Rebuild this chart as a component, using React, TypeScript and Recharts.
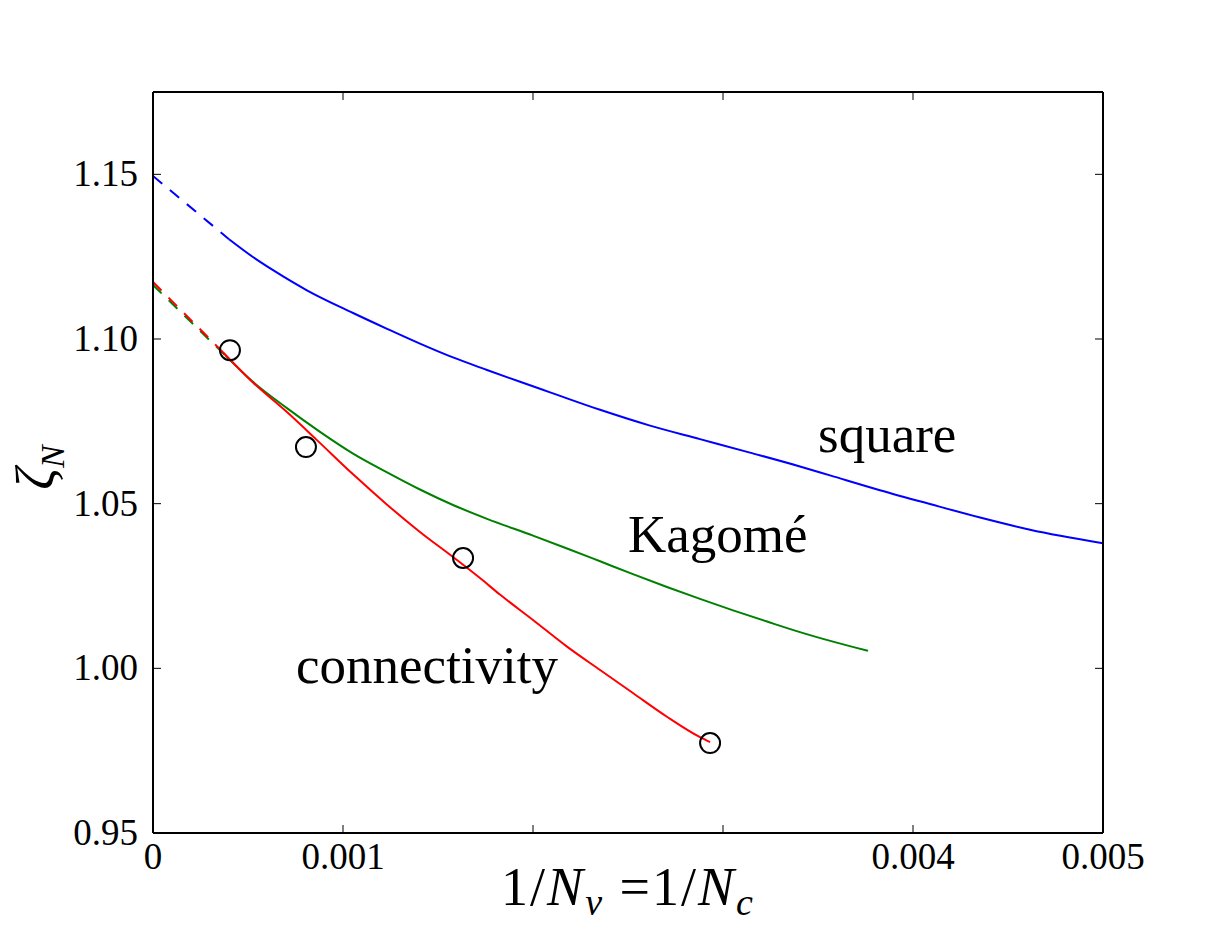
import React from 'react';
import { ComposedChart, Line, XAxis, YAxis, ReferenceDot } from 'recharts';

// ---- data ----
const xTicks = [0, 0.001, 0.002, 0.003, 0.004, 0.005];
const xTickLabels = ['0', '0.001', '', '', '0.004', '0.005'];
const yTicks = [0.95, 1.0, 1.05, 1.1, 1.15];
const yTickLabels = ['0.95', '1.00', '1.05', '1.10', '1.15'];

// square lattice
const squareX = [0.0004, 0.000526, 0.000632, 0.00081, 0.001053, 0.001232, 0.001405, 0.001579, 0.001758, 0.001932, 0.00209, 0.002353, 0.002616, 0.002879, 0.003142, 0.003405, 0.003563, 0.003826, 0.004089, 0.004353, 0.004616, 0.005];
const squareY = [1.1303, 1.1249, 1.1209, 1.1148, 1.1079, 1.1031, 1.0986, 1.0944, 1.0906, 1.087, 1.0838, 1.0785, 1.0737, 1.0696, 1.0655, 1.0613, 1.0586, 1.0541, 1.0499, 1.0458, 1.0421, 1.038];
const squareFitX = [0, 0.0004];
const squareFitY = [1.1495, 1.1303];

// Kagomé lattice
const kagomeX = [0.000379, 0.000526, 0.000705, 0.000879, 0.001053, 0.001232, 0.001405, 0.001579, 0.001758, 0.002, 0.002179, 0.002353, 0.002526, 0.002705, 0.002879, 0.003053, 0.003232, 0.003405, 0.003579, 0.003763];
const kagomeY = [1.0951, 1.087, 1.079, 1.0718, 1.0652, 1.0595, 1.0543, 1.0496, 1.0454, 1.0403, 1.0364, 1.0325, 1.0286, 1.0247, 1.0211, 1.0176, 1.0142, 1.011, 1.0081, 1.0053];
const kagomeFitX = [0, 0.000379];
const kagomeFitY = [1.1164, 1.0951];

// connectivity
const connX = [0.000368, 0.000526, 0.000705, 0.000863, 0.001053, 0.001232, 0.001405, 0.001579, 0.001721, 0.001826, 0.002, 0.002179, 0.002353, 0.002526, 0.002705, 0.002879, 0.002932];
const connY = [1.096, 1.0868, 1.0778, 1.0693, 1.0589, 1.0497, 1.0414, 1.0338, 1.0274, 1.0224, 1.0147, 1.0066, 0.9995, 0.9925, 0.9853, 0.9791, 0.9776];
const connFitX = [0, 0.000368];
const connFitY = [1.1173, 1.096];

// measured points
const pointX = [0.000405, 0.000805, 0.001632, 0.002932];
const pointY = [1.0966, 1.0672, 1.0335, 0.9773];

const zip = (xs: number[], ys: number[]) => xs.map((x, i) => ({ x, y: ys[i] }));

const squareData = zip(squareX, squareY);
const squareFit = zip(squareFitX, squareFitY);
const kagomeData = zip(kagomeX, kagomeY);
const kagomeFit = zip(kagomeFitX, kagomeFitY);
const connData = zip(connX, connY);
const connFit = zip(connFitX, connFitY);
const pointData = zip(pointX, pointY);

const FONT = '"Liberation Serif", "Times New Roman", serif';
const TICK_LEN = 8;

const BottomTick = (props: any) => {
  const { x, y, payload } = props;
  const i = xTicks.findIndex((t) => Math.abs(t - payload.value) < 1e-12);
  const label = i >= 0 ? xTickLabels[i] : '';
  return (
    <g>
      <line x1={x} y1={y} x2={x} y2={y - TICK_LEN} stroke="#000" strokeWidth={1} />
      {label && (
        <text x={x} y={y + 36} textAnchor="middle" fontFamily={FONT} fontSize={37} fill="#000">
          {label}
        </text>
      )}
    </g>
  );
};

const TopTick = (props: any) => {
  const { x, y } = props;
  return <line x1={x} y1={y} x2={x} y2={y + TICK_LEN} stroke="#000" strokeWidth={1} />;
};

const LeftTick = (props: any) => {
  const { x, y, payload } = props;
  const i = yTicks.findIndex((t) => Math.abs(t - payload.value) < 1e-9);
  const label = i >= 0 ? yTickLabels[i] : '';
  return (
    <g>
      <line x1={x} y1={y} x2={x + TICK_LEN} y2={y} stroke="#000" strokeWidth={1} />
      <text x={x - 15} y={y + 12} textAnchor="end" fontFamily={FONT} fontSize={37} fill="#000">
        {label}
      </text>
    </g>
  );
};

const RightTick = (props: any) => {
  const { x, y } = props;
  return <line x1={x} y1={y} x2={x - TICK_LEN} y2={y} stroke="#000" strokeWidth={1} />;
};

const XLabel = (props: any) => {
  const vb = props.viewBox;
  const cx = vb.x + vb.width / 2;
  const by = vb.y + 72;
  return (
    <text x={cx} y={by} textAnchor="middle" fontFamily={FONT} fontSize={54} letterSpacing={2} fill="#000">
      <tspan>1/</tspan>
      <tspan fontStyle="italic">N</tspan>
      <tspan fontStyle="italic" fontSize={38} dy={10}>v</tspan>
      <tspan dy={-10}> =1/</tspan>
      <tspan fontStyle="italic">N</tspan>
      <tspan fontStyle="italic" fontSize={38} dy={10}>c</tspan>
    </text>
  );
};

const YLabel = (props: any) => {
  const vb = props.viewBox;
  const bx = vb.x + 54;
  const cy = vb.y + vb.height / 2 + 5;
  return (
    <text
      x={bx}
      y={cy}
      transform={`rotate(-90, ${bx}, ${cy})`}
      textAnchor="middle"
      fontFamily={FONT}
      fontSize={54}
      fill="#000"
    >
      <tspan fontStyle="italic">ζ</tspan>
      <tspan fontStyle="italic" fontSize={34} dy={10}>N</tspan>
    </text>
  );
};

const annotation = (text: string) => (props: any) => {
  const vb = props.viewBox;
  return (
    <text x={vb.x} y={vb.y} textAnchor="start" fontFamily={FONT} fontSize={53} fill="#000">
      {text}
    </text>
  );
};

const OpenCircle = (props: any) => {
  const { cx, cy } = props;
  if (cx == null || cy == null) return null;
  return <circle cx={cx} cy={cy} r={10} fill="none" stroke="#000" strokeWidth={2} />;
};

export default function App() {
  return (
    <div style={{ position: 'absolute', left: 0, top: 0, width: 1227, height: 927, background: '#fff' }}>
      <ComposedChart
        width={1227}
        height={927}
        margin={{ top: 91, right: 123, bottom: 0, left: 0 }}
      >
        <XAxis
          xAxisId="b"
          dataKey="x"
          type="number"
          domain={[0, 0.005]}
          ticks={xTicks}
          interval={0}
          allowDataOverflow
          height={94}
          tickSize={0}
          tickMargin={0}
          tickLine={false}
          axisLine={{ stroke: '#000', strokeWidth: 2 }}
          tick={<BottomTick />}
          label={<XLabel />}
        />
        <XAxis
          xAxisId="t"
          orientation="top"
          dataKey="x"
          type="number"
          domain={[0, 0.005]}
          ticks={xTicks}
          interval={0}
          allowDataOverflow
          height={1}
          tickSize={0}
          tickMargin={0}
          tickLine={false}
          axisLine={{ stroke: '#000', strokeWidth: 2 }}
          tick={<TopTick />}
        />
        <YAxis
          yAxisId="l"
          type="number"
          domain={[0.95, 1.175]}
          ticks={yTicks}
          interval={0}
          allowDataOverflow
          width={153}
          tickSize={0}
          tickMargin={0}
          tickLine={false}
          axisLine={{ stroke: '#000', strokeWidth: 2 }}
          tick={<LeftTick />}
          label={<YLabel />}
        />
        <YAxis
          yAxisId="r"
          orientation="right"
          type="number"
          domain={[0.95, 1.175]}
          ticks={yTicks}
          interval={0}
          allowDataOverflow
          width={1}
          tickSize={0}
          tickMargin={0}
          tickLine={false}
          axisLine={{ stroke: '#000', strokeWidth: 2 }}
          tick={<RightTick />}
        />

        {/* invisible series that binds the top and right frame axes */}
        <Line xAxisId="t" yAxisId="r" data={pointData} dataKey="y" stroke="none" dot={false} activeDot={false} isAnimationActive={false} />

        <Line xAxisId="b" yAxisId="l" data={squareFit} dataKey="y" type="linear" stroke="#0000ff" strokeWidth={2} strokeDasharray="12 10" dot={false} isAnimationActive={false} />
        <Line xAxisId="b" yAxisId="l" data={squareData} dataKey="y" type="monotone" stroke="#0000ff" strokeWidth={2} dot={false} isAnimationActive={false} />

        <Line xAxisId="b" yAxisId="l" data={kagomeFit} dataKey="y" type="linear" stroke="#008000" strokeWidth={2} strokeDasharray="12 10" dot={false} isAnimationActive={false} />
        <Line xAxisId="b" yAxisId="l" data={kagomeData} dataKey="y" type="monotone" stroke="#008000" strokeWidth={2} dot={false} isAnimationActive={false} />

        <Line xAxisId="b" yAxisId="l" data={connFit} dataKey="y" type="linear" stroke="#ff0000" strokeWidth={2} strokeDasharray="12 10" dot={false} isAnimationActive={false} />
        <Line xAxisId="b" yAxisId="l" data={connData} dataKey="y" type="monotone" stroke="#ff0000" strokeWidth={2} dot={false} isAnimationActive={false} />

        <Line xAxisId="b" yAxisId="l" data={pointData} dataKey="y" type="linear" stroke="none" dot={<OpenCircle />} activeDot={false} isAnimationActive={false} />

        <ReferenceDot xAxisId="b" yAxisId="l" x={0.0035} y={1.0657} r={0} fill="none" stroke="none" label={annotation('square')} />
        <ReferenceDot xAxisId="b" yAxisId="l" x={0.0025} y={1.0353} r={0} fill="none" stroke="none" label={annotation('Kagomé')} />
        <ReferenceDot xAxisId="b" yAxisId="l" x={0.000753} y={0.9955} r={0} fill="none" stroke="none" label={annotation('connectivity')} />
      </ComposedChart>
    </div>
  );
}
